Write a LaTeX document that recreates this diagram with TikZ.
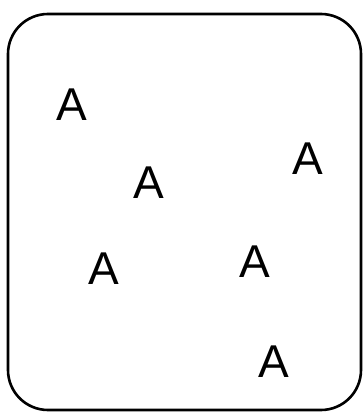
\documentclass[tikz,border=0pt]{standalone}
\usepackage{fontspec}
\setmainfont{Liberation Sans}
\tikzset{
    letter/.style={font=\fontsize{46}{46}\selectfont, inner sep=0pt},
    frame/.style={draw, line width=2.6pt, rounded corners=40pt}
}
\begin{document}
\begin{tikzpicture}[x=1pt, y=-1pt]
        \useasboundingbox (0, 0) rectangle (364, 415);

        % Frame
        \draw[frame] (8, 14) rectangle (361, 410);

        % Letters
        \node[letter] (a1) at (72, 105) {A};
        \node[letter] (a2) at (149, 183) {A};
        \node[letter] (a3) at (308, 159) {A};
        \node[letter] (a4) at (104, 269) {A};
        \node[letter] (a5) at (255, 262) {A};
        \node[letter] (a6) at (274, 362) {A};
    \end{tikzpicture}
\end{document}
